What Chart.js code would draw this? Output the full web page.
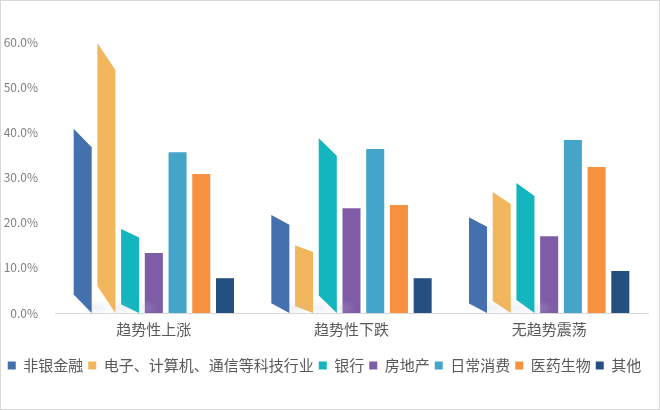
<!DOCTYPE html>
<html><head><meta charset="utf-8">
<script src="https://cdn.jsdelivr.net/npm/chart.js@4/dist/chart.umd.min.js"></script>
<style>
html,body{margin:0;padding:0;background:#fff;}
#wrap{position:relative;width:660px;height:410px;box-sizing:border-box;border:1px solid #d9d9d9;}
</style></head>
<body><div id="wrap"><canvas id="c"></canvas></div>
<script>
const categories = ['趋势性上涨','趋势性下跌','无趋势震荡'];
const seriesNames = ['非银金融','电子、计算机、通信等科技行业','银行','房地产','日常消费','医药生物','其他'];
const nonBankFinance = [40.8, 21.7, 21.2];
const techIndustry = [59.8, 15.0, 26.8];
const banks = [18.6, 38.7, 28.8];
const realEstate = [13.3, 23.2, 17.0];
const dailyConsumption = [35.6, 36.3, 38.3];
const pharma = [30.8, 23.9, 32.3];
const others = [7.7, 7.7, 9.3];
const yTicks = [0,10,20,30,40,50,60];
const colors = ['#4470AE','#F2B65C','#13B5BE','#7E5CA6','#45A5C8','#F6913F','#24507F'];
const seriesValues = [nonBankFinance, techIndustry, banks, realEstate, dailyConsumption, pharma, others];

const slantPlugin = {
  id:'slant',
  beforeDatasetDraw(chart, args){
    if (args.index > 2) return;
    const ctx = chart.ctx;
    const meta = args.meta;
    ctx.save();
    meta.data.forEach(el=>{
      const w = el.width, l = el.x - w/2, r = el.x + w/2;
      const h = el.base - el.y;
      const s = h*0.1;
      ctx.save();
      ctx.filter = 'blur(3px)';
      ctx.fillStyle = 'rgba(190,195,215,0.35)';
      ctx.beginPath();
      ctx.ellipse(r+5, el.base-5, 11, 3, 0, 0, Math.PI*2);
      ctx.fill();
      ctx.restore();
      ctx.fillStyle = colors[args.index];
      ctx.beginPath();
      ctx.moveTo(l, el.y);
      ctx.lineTo(r, el.y + s);
      ctx.lineTo(r, el.base);
      ctx.lineTo(l, el.base - s);
      ctx.closePath();
      ctx.fill();
    });
    ctx.restore();
    return false;
  }
};

new Chart(document.getElementById('c'), {
  type:'bar',
  data:{
    labels: categories,
    datasets: seriesNames.map((n,i)=>({label:n, data:seriesValues[i], backgroundColor:colors[i], borderWidth:0,
      categoryPercentage:0.84, barPercentage:0.76}))
  },
  options:{
    responsive:true, maintainAspectRatio:false, animation:false,
    layout:{padding:{left:0,right:11,top:41,bottom:26}},
    plugins:{
      legend:{position:'bottom', labels:{boxWidth:8, boxHeight:8, padding:5, color:'#595959',
        font:{family:'"Noto Sans CJK SC"', size:15}}},
      tooltip:{enabled:false}
    },
    scales:{
      x:{grid:{display:false, drawTicks:false}, border:{display:true, color:'#d9d9d9'},
        afterFit(ax){ax.height += 8;},
        ticks:{color:'#595959', padding:7, font:{family:'"Noto Sans CJK SC"', size:15}}},
      y:{min:0, max:60, afterBuildTicks(ax){ax.ticks = yTicks.map(v=>({value:v}));},
        afterFit(ax){ax.width = 54;},
        grid:{display:false}, border:{display:false},
        ticks:{color:'#7f7f7f', padding:9, font:{family:'"Noto Sans CJK SC"', size:12},
          callback:v=>v.toFixed(1)+'%'}}
    }
  },
  plugins:[slantPlugin]
});
</script></body></html>
